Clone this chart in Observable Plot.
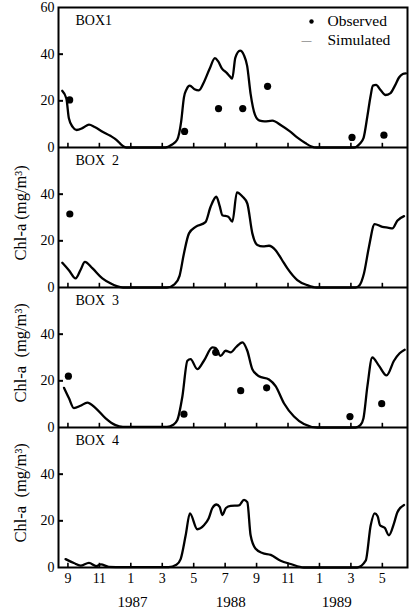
<!DOCTYPE html>
<html><head><meta charset="utf-8">
<script src="https://cdn.jsdelivr.net/npm/d3@7"></script>
<script src="https://cdn.jsdelivr.net/npm/@observablehq/plot@0.6"></script>
<style>
html,body{margin:0;padding:0;background:#fff;}
#chart{position:relative;width:414px;height:614px;}
svg{font-family:"Liberation Serif","Times New Roman",serif;}
</style></head><body><div id="chart"></div>
<script>
// ---- data ----
const boxNames = ["BOX1", "BOX\u00a0\u00a02", "BOX\u00a0\u00a03", "BOX\u00a0\u00a04"];
const yTitles = ["", "Chl-a (mg/m\u00b3)", "Chl-a\u2002(mg/m\u00b3)", "Chl-a\u2002(mg/m\u00b3)"];
// month index: 0 = first "9" tick
const monthTicks = [0, 2, 4, 6, 8, 10, 12, 14, 16, 18, 20];
const monthLabels = ["9", "11", "1", "3", "5", "7", "9", "11", "1", "3", "5"];
const yearLabels = ["1987", "1988", "1989"];
const yearPos = [4.1, 10.35, 17.1];
const yTickValues = [0, 20, 40, 60];
const legendLabels = ["Observed", "Simulated"];

const sim1 = [[-0.36,24.3],[-0.1,21],[0.06,12.5],[0.3,8.8],[0.55,7.5],[0.95,8.4],[1.34,9.8],[1.7,8.8],[2.2,6.8],[2.7,5],[3.1,3.2],[3.45,0.9],[3.7,0],[6.2,0],[6.6,1.2],[6.95,3.3],[7.2,11],[7.38,21.5],[7.55,25],[7.75,26.5],[8.05,25],[8.33,24.5],[8.65,28],[9.0,33.5],[9.35,38.3],[9.55,37],[9.8,33.8],[10.1,32],[10.3,30.5],[10.45,29.5],[10.65,38.5],[10.95,41.5],[11.2,39.5],[11.4,35],[11.62,23],[11.9,14],[12.2,11.5],[12.5,11.2],[13.0,11.5],[13.6,9.3],[14.1,7],[14.6,4.2],[15.1,1.9],[15.5,0.4],[15.8,0],[18.2,0],[18.55,1.5],[18.8,4],[19.05,13.5],[19.25,22],[19.4,26.5],[19.6,26.8],[19.9,24.5],[20.2,22.5],[20.5,23.2],[20.8,26.5],[21.06,30],[21.3,31.5],[21.5,31.8]];
const obs1 = [[0.11,20.4],[7.42,6.9],[9.58,16.7],[11.12,16.7],[12.7,26.2],[18.07,4.3],[20.1,5.3]];

const sim2 = [[-0.36,10.6],[0.06,7.4],[0.49,3.9],[0.8,7.5],[1.08,11],[1.55,8.3],[2.19,3.9],[2.7,1.8],[3.1,0.6],[3.5,0],[6.3,0],[6.8,1.5],[7.1,5],[7.38,14.6],[7.7,23.2],[8.12,26],[8.75,28],[9.07,34.5],[9.44,38.9],[9.65,35],[9.82,31],[10.2,30.3],[10.46,28.2],[10.75,40.8],[11.1,39],[11.41,36],[11.73,23.2],[12.05,18.2],[12.4,17.6],[12.79,17.9],[13.21,16],[13.6,12],[13.96,8.2],[14.59,3.2],[15.23,1],[15.8,0],[18.3,0],[18.55,1],[18.83,6],[19.15,17.5],[19.51,27.2],[20,26],[20.4,25.6],[20.64,25.3],[20.95,28.6],[21.38,30.6]];
const obs2 = [[0.12,31.5]];

const sim3 = [[-0.25,17],[0.06,12.6],[0.38,8.3],[0.8,9.3],[1.23,10.7],[1.76,8.3],[2.4,3.9],[3.03,1],[3.5,0.3],[6.3,0.3],[6.7,1.2],[6.96,3.2],[7.28,13.3],[7.6,28.6],[7.8,29.3],[8.23,25],[8.65,28.6],[9.19,34.3],[9.4,34],[9.71,30.7],[10.03,32.9],[10.35,32.2],[10.7,34.5],[11.1,36.5],[11.41,32.9],[11.73,25],[12.15,22],[12.79,20.6],[13.21,17.7],[13.74,10.4],[14.38,4.7],[15.01,1.5],[15.86,0],[18.3,0],[18.6,1],[18.8,4],[19.05,17.7],[19.36,30],[19.79,26.4],[20.27,22.3],[20.74,28.6],[21.1,31.8],[21.42,33.3]];
const obs3 = [[0.03,22],[7.38,5.7],[9.4,32.2],[10.99,15.8],[12.64,17],[17.94,4.7],[19.96,10.2]];

const sim4 = [[-0.15,3.6],[0.38,1.9],[0.8,0.8],[1.34,2],[1.8,0.6],[2.1,1.3],[2.6,0.3],[3.5,0.2],[6.4,0.2],[6.9,1.2],[7.17,3.6],[7.49,13.8],[7.76,23.2],[8.23,16.4],[8.65,18.1],[8.95,21],[9.19,25.5],[9.45,27],[9.65,26],[9.82,22.5],[10.05,25.5],[10.35,26.4],[10.88,26.6],[11.2,29],[11.41,28],[11.62,13.8],[11.94,8],[12.37,6.2],[12.9,5.4],[13.53,2.9],[14.17,1.5],[15,0],[18.4,0],[18.94,2.9],[19.26,18.1],[19.51,23.2],[19.7,22],[19.85,18.1],[20.15,17],[20.42,13.8],[20.74,18.9],[20.95,23.6],[21.38,26.8]];
const obs4 = [];

// ---- build tables ----
const sims = [sim1, sim2, sim3, sim4];
const obss = [obs1, obs2, obs3, obs4];
const xDomain = [-0.6, 21.6];
const panelRange = 60;
const off = b => (3 - b) * panelRange;

const simRows = sims.flatMap((s, b) => s.map(([t, v]) => ({box: b, t, v})));
const obsRows = obss.flatMap((s, b) => s.map(([t, v]) => ({box: b, t, v})));
const yLabelRows = boxNames.flatMap((_, b) =>
  yTickValues.filter(v => v < panelRange || b === 0).map(v => ({box: b, v})));
const yTickRows = boxNames.flatMap((_, b) => [20, 40].map(v => ({box: b, v})));
const xTickRows = boxNames.flatMap((_, b) => monthTicks.map(t => ({box: b, t})));
const boxRows = boxNames.map((name, b) => ({box: b, name}));
const titleRows = yTitles.map((title, b) => ({box: b, title})).filter(d => d.title);

const chart = Plot.plot({
  width: 414, height: 614,
  marginLeft: 58, marginRight: 7, marginTop: 7, marginBottom: 47,
  x: {domain: xDomain, axis: null},
  y: {domain: [0, 4 * panelRange], axis: null},
  style: {fontFamily: "Liberation Serif, Times New Roman, serif", fontSize: "14px", background: "white", color: "black"},
  marks: [
    Plot.ruleY([1, 2, 3].map(k => k * panelRange), {stroke: "black", strokeWidth: 2}),
    Plot.frame({stroke: "black", strokeWidth: 2}),
    // inward y ticks
    Plot.ruleY(yTickRows, {y: d => d.v + off(d.box), x1: xDomain[0], x2: xDomain[0] + 0.32, stroke: "black", strokeWidth: 2}),
    // inward x ticks
    Plot.ruleX(xTickRows, {x: "t", y1: d => off(d.box), y2: d => off(d.box) + 1.8, stroke: "black", strokeWidth: 1.6}),
    // y tick labels
    Plot.text(yLabelRows, {x: xDomain[0], y: d => d.v + off(d.box), text: d => String(d.v), textAnchor: "end", dx: -4, fontSize: 14}),
    // y titles
    Plot.text(titleRows, {x: xDomain[0], y: d => off(d.box) + 32, text: "title", rotate: -90, dx: -38, fontSize: 16.5}),
    // box labels
    Plot.text(boxRows, {x: xDomain[0], y: d => off(d.box) + panelRange, text: "name", textAnchor: "start", dx: 17, dy: 13, fontSize: 14}),
    // month labels
    Plot.text(monthTicks, {x: d => d, y: 0, text: (d, i) => monthLabels[i], dy: 11, fontSize: 14}),
    // year labels
    Plot.text(yearLabels, {x: (d, i) => yearPos[i], y: 0, text: d => d, dy: 35, fontSize: 15}),
    // simulated
    Plot.line(simRows, {x: "t", y: d => d.v + off(d.box), z: "box", curve: "monotone-x", stroke: "black", strokeWidth: 2.3}),
    // observed
    Plot.dot(obsRows, {x: "t", y: d => d.v + off(d.box), r: 3.6, fill: "black", stroke: "none"}),
    // legend
    Plot.dot([legendLabels[0]], {frameAnchor: "top-right", dx: -96, dy: 14, r: 2.2, fill: "black", stroke: "none"}),
    Plot.text(["\u2014"], {frameAnchor: "top-right", dx: -96, dy: 33, text: d => d, lineAnchor: "middle", fontSize: 10, fill: "#555"}),
    Plot.text([legendLabels[0]], {frameAnchor: "top-right", dx: -80, dy: 14, text: d => d, textAnchor: "start", lineAnchor: "middle", fontSize: 15.5}),
    Plot.text([legendLabels[1]], {frameAnchor: "top-right", dx: -80, dy: 33, text: d => d, textAnchor: "start", lineAnchor: "middle", fontSize: 15.5})
  ]
});
document.getElementById("chart").appendChild(chart);
</script>
</body></html>
